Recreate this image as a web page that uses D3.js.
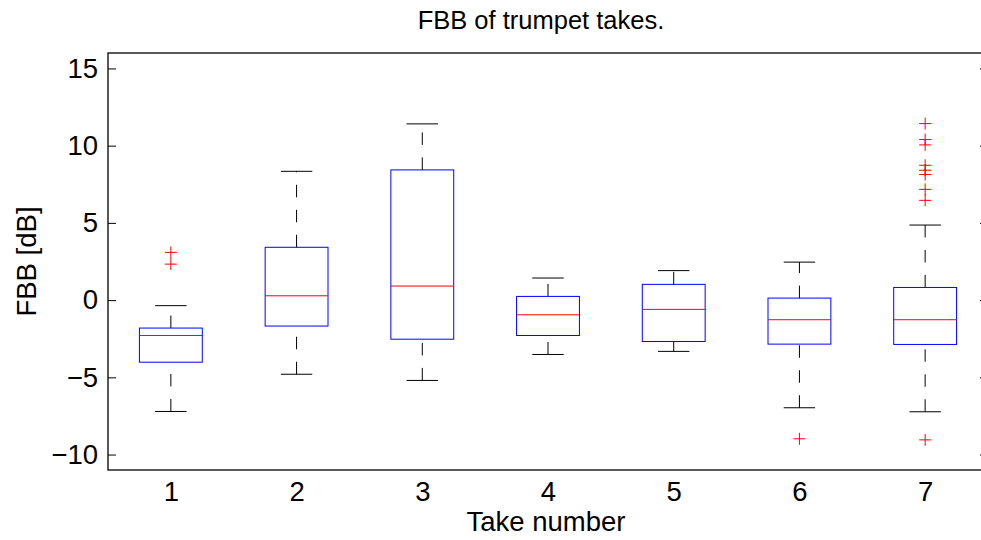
<!DOCTYPE html>
<html><head><meta charset="utf-8">
<script src="https://cdn.jsdelivr.net/npm/d3@7"></script>
<style>body{margin:0;background:#fff}svg{display:block}text{font-family:"Liberation Sans",Arial,Helvetica,sans-serif}</style>
</head><body>
<script>
const takes = [1,2,3,4,5,6,7];
const upperWhisker = [-0.36, 8.34, 11.41, 1.43, 1.91, 2.46, 4.86];
const q3 = [-1.81, 3.42, 8.43, 0.24, 1.02, 0.13, 0.82];
const median = [-2.29, 0.28, 0.91, -0.95, -0.60, -1.27, -1.27];
const q1 = [-4.02, -1.68, -2.53, -2.29, -2.68, -2.85, -2.87];
const lowerWhisker = [-7.21, -4.80, -5.20, -3.52, -3.32, -6.97, -7.23];
const outliers = [[3.09, 2.33], [], [], [], [], [-8.98], [11.43, 10.40, 10.05, 8.73, 8.41, 8.13, 7.17, 6.46, -9.05]];
const yTicks = [-10, -5, 0, 5, 10, 15];
const title = "FBB of trumpet takes.";
const xLabel = "Take number";
const yLabel = "FBB [dB]";

const W = 981, H = 540;
const L = 108, R = 988, T = 53, B = 470;
const svg = d3.select("body").append("svg").attr("width", W).attr("height", H);
const x = d3.scaleLinear().domain([0.5, 7.5]).range([L, R]);
const y = d3.scaleLinear().domain([-11, 16]).range([B, T]);
const fs = 27.5;

// axes box
svg.append("rect").attr("x", L).attr("y", T).attr("width", R - L).attr("height", B - T)
  .attr("fill", "none").attr("stroke", "#000").attr("stroke-width", 1.3);

// y axis left
const yAxisL = svg.append("g").attr("transform", `translate(${L},0)`)
  .call(d3.axisLeft(y).tickValues(yTicks).tickSize(-8).tickPadding(10)
    .tickFormat(d => d < 0 ? "\u2212" + Math.abs(d) : String(d)));
yAxisL.select(".domain").remove();
yAxisL.selectAll("line").attr("stroke", "#000");
yAxisL.selectAll("text").attr("font-size", fs).attr("fill", "#000").attr("font-family", '"Liberation Sans",Arial,sans-serif');
const yAxisR = svg.append("g").attr("transform", `translate(${R},0)`)
  .call(d3.axisRight(y).tickValues(yTicks).tickSize(-8).tickFormat(""));
yAxisR.select(".domain").remove();
yAxisR.selectAll("line").attr("stroke", "#000");

// x tick labels
const xAxis = svg.append("g").attr("transform", `translate(0,${B})`)
  .call(d3.axisBottom(x).tickValues(takes).tickSize(0).tickPadding(11).tickFormat(d3.format("d")));
xAxis.select(".domain").remove();
xAxis.selectAll("text").attr("font-size", fs).attr("fill", "#000").attr("font-family", '"Liberation Sans",Arial,sans-serif');

const bw = 0.25, cw = 0.125;
const g = svg.append("g");
takes.forEach((t, i) => {
  const bg = g.append("g");
  // whiskers dashed
  bg.append("line").attr("x1", x(t)).attr("x2", x(t)).attr("y1", y(q3[i])).attr("y2", y(upperWhisker[i]))
    .attr("stroke", "#000").attr("stroke-dasharray", "12.5,12.5").attr("stroke-width", 1);
  bg.append("line").attr("x1", x(t)).attr("x2", x(t)).attr("y1", y(lowerWhisker[i])).attr("y2", y(q1[i]))
    .attr("stroke", "#000").attr("stroke-dasharray", "12.5,12.5").attr("stroke-width", 1);
  // caps
  [upperWhisker[i], lowerWhisker[i]].forEach(v => {
    bg.append("line").attr("x1", x(t - cw)).attr("x2", x(t + cw)).attr("y1", y(v)).attr("y2", y(v))
      .attr("stroke", "#000").attr("stroke-width", 1);
  });
  // box
  bg.append("rect").attr("x", x(t - bw)).attr("width", x(t + bw) - x(t - bw))
    .attr("y", y(q3[i])).attr("height", y(q1[i]) - y(q3[i]))
    .attr("fill", "none").attr("stroke", "#0000ff").attr("stroke-width", 1);
  // median
  bg.append("line").attr("x1", x(t - bw)).attr("x2", x(t + bw)).attr("y1", y(median[i])).attr("y2", y(median[i]))
    .attr("stroke", "#ff0000").attr("stroke-width", 1);
  // outliers
  outliers[i].forEach(v => {
    const cx = x(t), cy = y(v);
    bg.append("path").attr("d", `M${cx - 6},${cy}H${cx + 6}M${cx},${cy - 6}V${cy + 6}`)
      .attr("stroke", "#ff0000").attr("stroke-width", 1).attr("fill", "none");
  });
});

svg.append("text").attr("x", 541).attr("y", 29).attr("text-anchor", "middle")
  .attr("font-size", 25.5).text(title);
svg.append("text").attr("x", 546).attr("y", 531).attr("text-anchor", "middle")
  .attr("font-size", fs).text(xLabel);
svg.append("text").attr("transform", `translate(36,${(T + B) / 2}) rotate(-90)`).attr("text-anchor", "middle")
  .attr("font-size", fs).text(yLabel);
</script>
</body></html>
